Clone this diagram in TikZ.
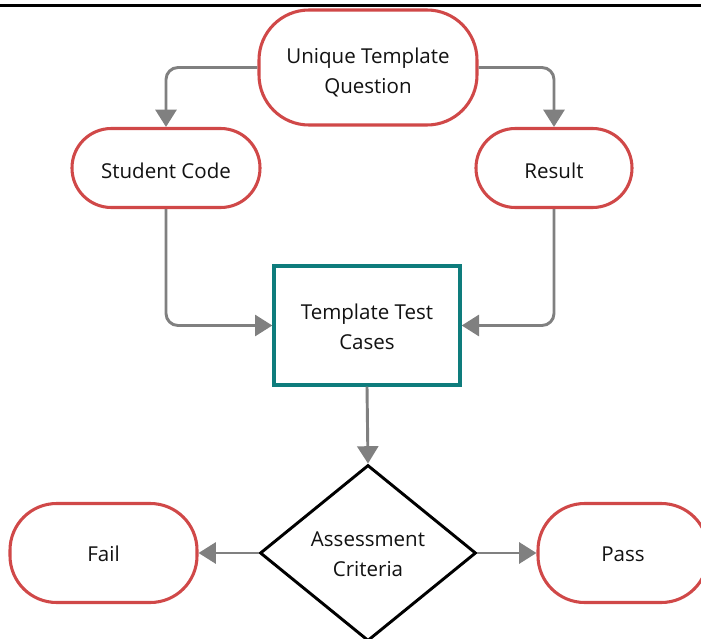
\documentclass[tikz,border=0pt]{standalone}
\usepackage{fontspec}
\setmainfont{Open Sans}
\usetikzlibrary{arrows.meta,shapes.geometric}

\definecolor{termred}{RGB}{208,72,72}
\definecolor{boxteal}{RGB}{14,124,124}
\definecolor{linkgray}{RGB}{128,128,128}
\definecolor{inktext}{RGB}{18,18,18}

% move a line of text down without changing its box
\newcommand{\sinkline}[2]{\raisebox{-#1}[\height][\depth]{#2}}

\tikzset{
  lbl/.style={font=\fontsize{15.4pt}{22.5pt}\selectfont, text=inktext, align=center, inner sep=0pt},
  term/.style={lbl, draw=termred, line width=2.3pt, fill=white, rectangle},
  procbox/.style={lbl, draw=boxteal, line width=2.5pt, fill=white, rectangle},
  decide/.style={lbl, draw=black, line width=2.2pt, fill=white, diamond, inner sep=0pt},
  link/.style={draw=linkgray, line width=2.2pt, rounded corners=9pt,
    -{Triangle[width=15.75pt,length=13pt]}},
}

\begin{document}
\begin{tikzpicture}[x=0.75pt,y=-0.75pt]
  \useasboundingbox (0,0) rectangle (701,639);
  \clip (0,0) rectangle (701,639);

  % rule across the top
  \draw[line width=1.6pt, black] (0,5.5) -- (701,5.5);

  % terminators
  \node[term, minimum width=163.5pt, minimum height=86.25pt, rounded corners=37.5pt]
    (q) at (368,67.5) {\sinkline{3.6pt}{Unique Template}\\\sinkline{3.6pt}{Question}};
  \node[term, minimum width=141pt, minimum height=59.25pt, rounded corners=29.5pt]
    (sc) at (166,168) {\sinkline{2.2pt}{Student Code}};
  \node[term, minimum width=117pt, minimum height=59.25pt, rounded corners=29.5pt]
    (res) at (554,168) {\sinkline{2.2pt}{Result}};
  \node[term, minimum width=140.25pt, minimum height=74.25pt, rounded corners=35pt]
    (fail) at (103.5,553) {\sinkline{0.8pt}{Fail}};
  \node[term, minimum width=127.5pt, minimum height=74.25pt, rounded corners=35pt]
    (pass) at (623,553) {\sinkline{0.8pt}{Pass}};

  % process box
  \node[procbox, minimum width=139.5pt, minimum height=89.25pt]
    (ttc) at (367,325.5) {\sinkline{0.8pt}{Template Test}\\\sinkline{0.8pt}{Cases}};

  % decision
  \node[decide, minimum width=162pt, minimum height=132pt]
    (crit) at (368,553) {\sinkline{0.8pt}{Assessment}\\\sinkline{0.8pt}{Criteria}};

  % connectors
  \draw[link] (q.west) -| (sc.north);
  \draw[link] (q.east) -| (res.north);
  \draw[link] (sc.south) |- (ttc.west);
  \draw[link] (res.south) |- (ttc.east);
  \draw[link] (ttc.south) -- (crit.north);
  \draw[link] (crit.west) -- (fail.east);
  \draw[link] (crit.east) -- (pass.west);
\end{tikzpicture}
\end{document}
